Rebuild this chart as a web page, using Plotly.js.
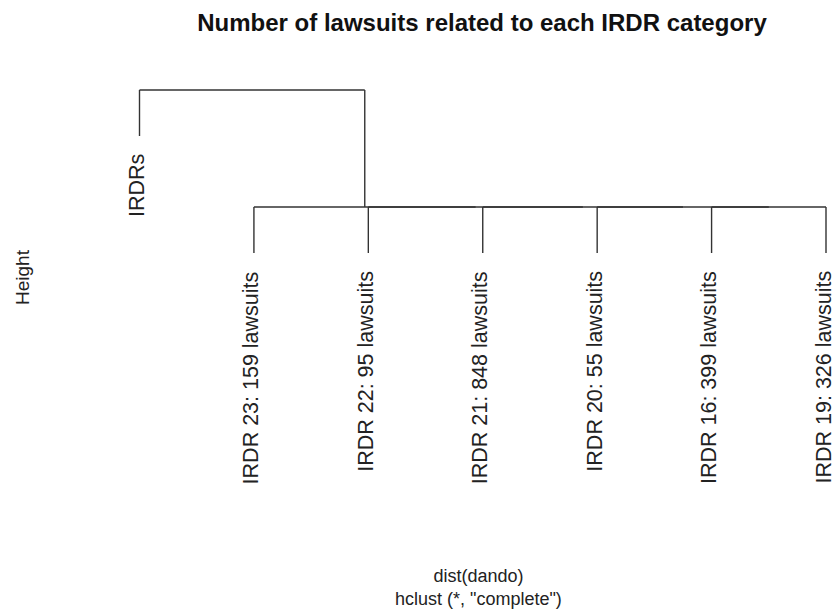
<!DOCTYPE html>
<html>
<head>
<meta charset="utf-8">
<script src="https://cdn.plot.ly/plotly-3.0.1.min.js"></script>
<style>html,body{margin:0;padding:0;background:#fff;}#chart{width:834px;height:609px;}</style>
</head>
<body>
<div id="chart"></div>
<script>
// Leaves in dendrogram order (left to right)
const leafLabels = ["IRDRs", "IRDR 23: 159 lawsuits", "IRDR 22: 95 lawsuits", "IRDR 21: 848 lawsuits",
                    "IRDR 20: 55 lawsuits", "IRDR 16: 399 lawsuits", "IRDR 19: 326 lawsuits"];
// hclust-style merge table: negative = leaf (1-based order position), positive = earlier merge step
const mergeLeft   = [-6, -5, -4, -3, -2, -1];
const mergeRight  = [-7,  1,  2,  3,  4,  5];
const mergeHeight = [0, 0, 0, 0, 0, 1];
const hang = 0.393;

const xs = [], ys = [];
const centers = [];
function seg(x0, y0, x1, y1) { xs.push(x0, x1, null); ys.push(y0, y1, null); }
const leafEnds = new Array(leafLabels.length).fill(null);
for (let k = 0; k < mergeLeft.length; k++) {
  const H = mergeHeight[k];
  const kids = [mergeLeft[k], mergeRight[k]];
  const cx = kids.map(c => {
    if (c < 0) {
      const x = -c;
      seg(x, H, x, H - hang);
      leafEnds[x - 1] = H - hang;
      return x;
    } else {
      const x = centers[c - 1];
      seg(x, H, x, mergeHeight[c - 1]);
      return x;
    }
  });
  seg(cx[0], H, cx[1], H);
  centers.push((cx[0] + cx[1]) / 2);
}

const font = "Liberation Sans, Arial, Helvetica, sans-serif";
const annotations = leafLabels.map((t, i) => ({
  x: i + 1, y: leafEnds[i], xref: 'x', yref: 'y', text: t, showarrow: false,
  textangle: -90, xanchor: 'center', yanchor: 'top', yshift: -16, xshift: -2,
  font: {family: font, size: 21.5, color: '#222'}
}));
annotations.push({
  xref: 'paper', yref: 'paper', x: 22 / 834, y: 1 - 277 / 609, text: 'Height', showarrow: false,
  textangle: -90, xanchor: 'center', yanchor: 'middle', font: {family: font, size: 19, color: '#222'}
});
annotations.push({
  xref: 'paper', yref: 'paper', x: 478 / 834, y: 1 - 587 / 609,
  text: 'dist(dando)<br>hclust (*, "complete")', showarrow: false,
  xanchor: 'center', yanchor: 'middle', font: {family: font, size: 18, color: '#222'}
});

const trace = {
  x: xs, y: ys, type: 'scatter', mode: 'lines', hoverinfo: 'skip',
  line: {color: '#333', width: 1.4}, connectgaps: false
};

const layout = {
  width: 834, height: 609,
  margin: {l: 0, r: 0, t: 0, b: 0},
  paper_bgcolor: '#fff', plot_bgcolor: '#fff', showlegend: false,
  title: {text: 'Number of lawsuits related to each IRDR category',
          font: {family: font, size: 24, weight: 'bold', color: '#111'},
          x: 482 / 834, xanchor: 'center', xref: 'paper',
          y: 1 - 23 / 609, yref: 'container', yanchor: 'middle'},
  xaxis: {range: [-0.2192, 7.0699], visible: false, fixedrange: true},
  yaxis: {range: [-3.4359, 1.76923], visible: false, fixedrange: true},
  annotations: annotations
};

Plotly.newPlot('chart', [trace], layout, {displayModeBar: false, staticPlot: true});
</script>
</body>
</html>
